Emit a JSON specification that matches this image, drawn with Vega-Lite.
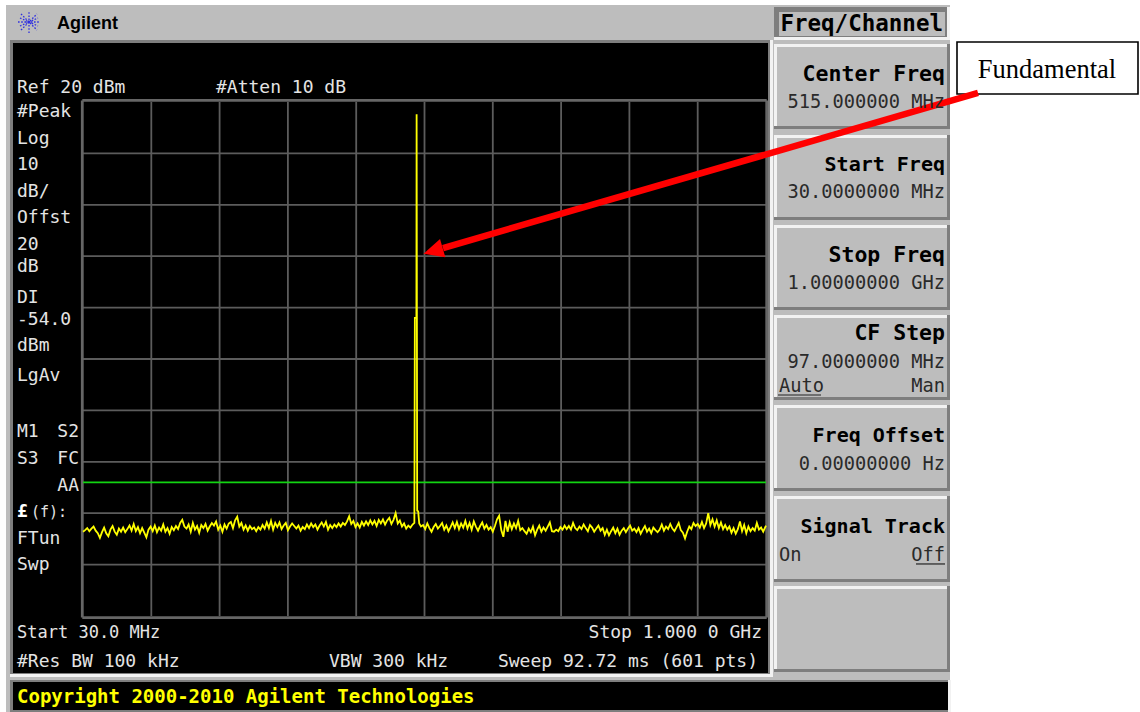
{
"$schema":"https://vega.github.io/schema/vega-lite/v6.json",
"width":1140,"height":712,"padding":0,"autosize":{"type":"fit","contains":"padding"},
"background":"#ffffff","view":{"stroke":null},
"config":{"text":{"font":"DejaVu Sans Mono","fontSize":18,"baseline":"alphabetic"}},
"encoding":{
"x":{"field":"f","type":"quantitative","scale":{"domain":[-87.88,1531.15],"nice":false,"zero":false},"axis":null},
"y":{"field":"a","type":"quantitative","scale":{"domain":[-98.68,39.84],"nice":false,"zero":false},"axis":null}
},
"layer":[
{"data":{"values":[
{"part":"body","f":-79.36,"f2":1261.31,"a":38.87,"a2":-98.68},
{"part":"bezel","f":-73.68,"f2":1005.67,"a":32.06,"a2":-91.29},
{"part":"light","f":1005.67,"f2":1009.93,"a":32.06,"a2":-91.87},
{"part":"light","f":-73.68,"f2":1009.93,"a":-91.29,"a2":-91.87},
{"part":"black","f":-69.42,"f2":1002.83,"a":31.47,"a2":-91.09},
{"part":"bezel","f":-73.68,"f2":1258.47,"a":-92.45,"a2":-98.68},
{"part":"light","f":1258.47,"f2":1262.73,"a":-92.45,"a2":-98.68},
{"part":"black","f":-69.42,"f2":1258.47,"a":-92.84,"a2":-98.29},
{"part":"light","f":1011.35,"f2":1261.31,"a":38.48,"a2":32.06},
{"part":"bezel","f":1011.35,"f2":1257.05,"a":38.48,"a2":32.64},
{"part":"body","f":1018.46,"f2":1254.21,"a":37.51,"a2":32.84},
{"part":"bezel","f":1011.35,"f2":1261.31,"a":31.28,"a2":14.74},
{"part":"light","f":1011.35,"f2":1257.05,"a":31.28,"a2":15.33},
{"part":"body","f":1015.62,"f2":1257.05,"a":30.7,"a2":15.33},
{"part":"bezel","f":1011.35,"f2":1261.31,"a":13.58,"a2":-2.96},
{"part":"light","f":1011.35,"f2":1257.05,"a":13.58,"a2":-2.38},
{"part":"body","f":1015.62,"f2":1257.05,"a":12.99,"a2":-2.38},
{"part":"bezel","f":1011.35,"f2":1261.31,"a":-3.93,"a2":-20.47},
{"part":"light","f":1011.35,"f2":1257.05,"a":-3.93,"a2":-19.89},
{"part":"body","f":1015.62,"f2":1257.05,"a":-4.52,"a2":-19.89},
{"part":"bezel","f":1011.35,"f2":1261.31,"a":-21.44,"a2":-37.98},
{"part":"light","f":1011.35,"f2":1257.05,"a":-21.44,"a2":-37.4},
{"part":"body","f":1015.62,"f2":1257.05,"a":-22.03,"a2":-37.4},
{"part":"bezel","f":1011.35,"f2":1261.31,"a":-38.95,"a2":-55.68},
{"part":"light","f":1011.35,"f2":1257.05,"a":-38.95,"a2":-55.1},
{"part":"body","f":1015.62,"f2":1257.05,"a":-39.53,"a2":-55.1},
{"part":"bezel","f":1011.35,"f2":1261.31,"a":-56.66,"a2":-73.39},
{"part":"light","f":1011.35,"f2":1257.05,"a":-56.66,"a2":-72.8},
{"part":"body","f":1015.62,"f2":1257.05,"a":-57.24,"a2":-72.8},
{"part":"bezel","f":1011.35,"f2":1261.31,"a":-74.17,"a2":-90.9},
{"part":"light","f":1011.35,"f2":1257.05,"a":-74.17,"a2":-90.31},
{"part":"body","f":1015.62,"f2":1257.05,"a":-74.75,"a2":-90.31}
]},
"mark":{"type":"rect"},
"encoding":{"x2":{"field":"f2"},"y2":{"field":"a2"},
"color":{"field":"part","type":"nominal","legend":null,"scale":{"domain":["body","bezel","light","black"],"range":["#bdbdbd","#7e7e7e","#f2f2f2","#000000"]}}}},
{"data":{"values":[
{"f":127,"f2":127,"a":20,"a2":-80},{"f":224,"f2":224,"a":20,"a2":-80},{"f":321,"f2":321,"a":20,"a2":-80},{"f":418,"f2":418,"a":20,"a2":-80},{"f":515,"f2":515,"a":20,"a2":-80},{"f":612,"f2":612,"a":20,"a2":-80},{"f":709,"f2":709,"a":20,"a2":-80},{"f":806,"f2":806,"a":20,"a2":-80},{"f":903,"f2":903,"a":20,"a2":-80},
{"f":30,"f2":1000,"a":10,"a2":10},{"f":30,"f2":1000,"a":0,"a2":0},{"f":30,"f2":1000,"a":-10,"a2":-10},{"f":30,"f2":1000,"a":-20,"a2":-20},{"f":30,"f2":1000,"a":-30,"a2":-30},{"f":30,"f2":1000,"a":-40,"a2":-40},{"f":30,"f2":1000,"a":-50,"a2":-50},{"f":30,"f2":1000,"a":-60,"a2":-60},{"f":30,"f2":1000,"a":-70,"a2":-70}
]},
"mark":{"type":"rule","stroke":"#5c5c5c","strokeWidth":1.8},
"encoding":{"x2":{"field":"f2"},"y2":{"field":"a2"}}},
{"data":{"values":[
{"f":29,"f2":29,"a":20.3,"a2":-80.3},{"f":1001,"f2":1001,"a":20.3,"a2":-80.3},{"f":29,"f2":1001,"a":20.3,"a2":20.3},{"f":29,"f2":1001,"a":-80.3,"a2":-80.3}
]},
"mark":{"type":"rule","stroke":"#666666","strokeWidth":2.8},
"encoding":{"x2":{"field":"f2"},"y2":{"field":"a2"}}},
{"data":{"values":[{"f":30,"f2":1000,"a":-54}]},
"mark":{"type":"rule","stroke":"#12d412","strokeWidth":1.6},
"encoding":{"x2":{"field":"f2"}}},
{"data":{"values":[
{"f":30,"a":-63.6},{"f":33,"a":-63.3},{"f":36,"a":-62.9},{"f":39,"a":-63.5},{"f":42,"a":-63.0},{"f":45,"a":-62.6},{"f":48,"a":-63.4},{"f":51,"a":-63.9},{"f":54,"a":-64.8},{"f":57,"a":-63.7},{"f":60,"a":-62.8},{"f":63,"a":-63.9},{"f":66,"a":-64.5},{"f":69,"a":-63.2},{"f":72,"a":-62.5},{"f":75,"a":-63.6},{"f":78,"a":-64.2},{"f":81,"a":-63.0},{"f":84,"a":-63.6},{"f":87,"a":-62.8},
{"f":90,"a":-63.7},{"f":93,"a":-63.1},{"f":96,"a":-62.4},{"f":99,"a":-63.4},{"f":102,"a":-62.1},{"f":105,"a":-63.5},{"f":108,"a":-62.7},{"f":111,"a":-63.9},{"f":114,"a":-62.9},{"f":117,"a":-63.8},{"f":120,"a":-64.7},{"f":123,"a":-63.2},{"f":126,"a":-62.6},{"f":129,"a":-63.5},{"f":132,"a":-62.4},{"f":135,"a":-63.7},{"f":138,"a":-62.8},{"f":141,"a":-63.4},{"f":144,"a":-62.2},{"f":147,"a":-63.6},
{"f":150,"a":-62.9},{"f":153,"a":-64.0},{"f":156,"a":-62.7},{"f":159,"a":-63.3},{"f":162,"a":-62.5},{"f":165,"a":-63.1},{"f":168,"a":-61.9},{"f":171,"a":-61.3},{"f":174,"a":-62.6},{"f":177,"a":-63.0},{"f":180,"a":-62.2},{"f":183,"a":-63.6},{"f":186,"a":-61.9},{"f":189,"a":-63.2},{"f":192,"a":-62.5},{"f":195,"a":-63.8},{"f":198,"a":-62.3},{"f":201,"a":-62.9},{"f":204,"a":-62.1},{"f":207,"a":-63.4},
{"f":210,"a":-62.6},{"f":213,"a":-61.9},{"f":216,"a":-62.4},{"f":219,"a":-61.6},{"f":222,"a":-63.2},{"f":225,"a":-62.4},{"f":228,"a":-63.6},{"f":231,"a":-62.2},{"f":234,"a":-63.0},{"f":237,"a":-62.0},{"f":240,"a":-61.7},{"f":243,"a":-62.9},{"f":246,"a":-61.4},{"f":249,"a":-60.7},{"f":252,"a":-62.6},{"f":255,"a":-61.9},{"f":258,"a":-63.2},{"f":261,"a":-62.4},{"f":264,"a":-63.4},{"f":267,"a":-62.5},
{"f":270,"a":-63.1},{"f":273,"a":-62.8},{"f":276,"a":-63.5},{"f":279,"a":-62.7},{"f":282,"a":-63.2},{"f":285,"a":-62.3},{"f":288,"a":-63.0},{"f":291,"a":-61.8},{"f":294,"a":-62.9},{"f":297,"a":-61.5},{"f":300,"a":-63.2},{"f":303,"a":-61.9},{"f":306,"a":-62.7},{"f":309,"a":-61.8},{"f":312,"a":-63.1},{"f":315,"a":-62.4},{"f":318,"a":-61.9},{"f":321,"a":-63.3},{"f":324,"a":-62.6},{"f":327,"a":-62.0},
{"f":330,"a":-62.5},{"f":333,"a":-63.0},{"f":336,"a":-62.4},{"f":339,"a":-63.4},{"f":342,"a":-62.7},{"f":345,"a":-63.1},{"f":348,"a":-62.2},{"f":351,"a":-62.9},{"f":354,"a":-62.0},{"f":357,"a":-62.7},{"f":360,"a":-62.2},{"f":363,"a":-63.2},{"f":366,"a":-62.4},{"f":369,"a":-61.8},{"f":372,"a":-62.6},{"f":375,"a":-61.7},{"f":378,"a":-63.2},{"f":381,"a":-62.3},{"f":384,"a":-62.9},{"f":387,"a":-62.2},
{"f":390,"a":-62.7},{"f":393,"a":-62.0},{"f":396,"a":-62.6},{"f":399,"a":-61.9},{"f":402,"a":-62.3},{"f":405,"a":-61.6},{"f":408,"a":-60.6},{"f":411,"a":-62.1},{"f":414,"a":-61.5},{"f":417,"a":-62.7},{"f":420,"a":-62.0},{"f":423,"a":-62.8},{"f":426,"a":-61.7},{"f":429,"a":-62.4},{"f":432,"a":-61.6},{"f":435,"a":-62.3},{"f":438,"a":-61.4},{"f":441,"a":-62.2},{"f":444,"a":-61.5},{"f":447,"a":-62.5},
{"f":450,"a":-61.3},{"f":453,"a":-62.0},{"f":456,"a":-61.2},{"f":459,"a":-62.2},{"f":462,"a":-61.4},{"f":465,"a":-60.9},{"f":468,"a":-62.1},{"f":471,"a":-61.3},{"f":474,"a":-60.0},{"f":477,"a":-62.0},{"f":480,"a":-61.4},{"f":483,"a":-62.6},{"f":486,"a":-62.0},{"f":489,"a":-63.0},{"f":492,"a":-62.4},{"f":495,"a":-62.8},{"f":498,"a":-62.2},{"f":500.6,"a":-61.9},
{"f":501.3,"a":-22},{"f":503.5,"a":-22},{"f":503.8,"a":17.6},{"f":504.2,"a":-22},{"f":504.6,"a":-59.5},{"f":506,"a":-59.6},{"f":507.5,"a":-62},
{"f":510,"a":-62.6},{"f":513,"a":-62.3},{"f":516,"a":-63.1},{"f":519,"a":-62.0},{"f":522,"a":-62.9},{"f":525,"a":-63.6},{"f":528,"a":-62.7},{"f":531,"a":-62.1},{"f":534,"a":-63.0},{"f":537,"a":-62.5},{"f":540,"a":-61.9},{"f":543,"a":-63.2},{"f":546,"a":-62.4},{"f":549,"a":-63.5},{"f":552,"a":-62.7},{"f":555,"a":-61.8},{"f":558,"a":-62.9},{"f":561,"a":-61.7},{"f":564,"a":-63.1},{"f":567,"a":-62.0},
{"f":570,"a":-62.8},{"f":573,"a":-61.5},{"f":576,"a":-63.0},{"f":579,"a":-61.9},{"f":582,"a":-63.2},{"f":585,"a":-61.6},{"f":588,"a":-62.6},{"f":591,"a":-63.4},{"f":594,"a":-62.5},{"f":597,"a":-61.8},{"f":600,"a":-63.0},{"f":603,"a":-62.3},{"f":606,"a":-63.2},{"f":609,"a":-62.7},{"f":612,"a":-63.6},{"f":615,"a":-62.5},{"f":618,"a":-61.2},{"f":621,"a":-60.5},{"f":624,"a":-63.3},{"f":627,"a":-64.6},
{"f":630,"a":-61.5},{"f":633,"a":-63.6},{"f":636,"a":-61.8},{"f":639,"a":-63.1},{"f":642,"a":-62.0},{"f":645,"a":-62.9},{"f":648,"a":-61.5},{"f":651,"a":-63.3},{"f":654,"a":-62.9},{"f":657,"a":-63.5},{"f":660,"a":-64.0},{"f":663,"a":-63.0},{"f":666,"a":-63.7},{"f":669,"a":-62.6},{"f":672,"a":-64.3},{"f":675,"a":-63.2},{"f":678,"a":-62.4},{"f":681,"a":-63.6},{"f":684,"a":-62.8},{"f":687,"a":-63.4},
{"f":690,"a":-62.6},{"f":693,"a":-61.8},{"f":696,"a":-63.5},{"f":699,"a":-63.6},{"f":702,"a":-63.2},{"f":705,"a":-63.5},{"f":708,"a":-62.7},{"f":711,"a":-63.2},{"f":714,"a":-62.4},{"f":717,"a":-63.1},{"f":720,"a":-62.5},{"f":723,"a":-63.2},{"f":726,"a":-61.9},{"f":729,"a":-62.9},{"f":732,"a":-63.3},{"f":735,"a":-62.6},{"f":738,"a":-63.1},{"f":741,"a":-62.2},{"f":744,"a":-62.9},{"f":747,"a":-63.5},
{"f":750,"a":-62.3},{"f":753,"a":-62.8},{"f":756,"a":-63.6},{"f":759,"a":-63.0},{"f":762,"a":-62.4},{"f":765,"a":-63.4},{"f":768,"a":-62.9},{"f":771,"a":-64.2},{"f":774,"a":-63.2},{"f":777,"a":-64.3},{"f":780,"a":-63.5},{"f":783,"a":-62.8},{"f":786,"a":-63.9},{"f":789,"a":-63.0},{"f":792,"a":-64.2},{"f":795,"a":-63.4},{"f":798,"a":-62.9},{"f":801,"a":-63.7},{"f":804,"a":-63.0},{"f":807,"a":-62.4},
{"f":810,"a":-63.4},{"f":813,"a":-63.0},{"f":816,"a":-63.7},{"f":819,"a":-62.9},{"f":822,"a":-64.0},{"f":825,"a":-63.2},{"f":828,"a":-62.5},{"f":831,"a":-63.6},{"f":834,"a":-63.0},{"f":837,"a":-63.9},{"f":840,"a":-62.8},{"f":843,"a":-63.3},{"f":846,"a":-63.7},{"f":849,"a":-63.2},{"f":852,"a":-62.2},{"f":855,"a":-63.4},{"f":858,"a":-62.6},{"f":861,"a":-63.1},{"f":864,"a":-62.1},{"f":867,"a":-63.0},
{"f":870,"a":-63.5},{"f":873,"a":-62.7},{"f":876,"a":-61.9},{"f":879,"a":-63.3},{"f":882,"a":-63.8},{"f":885,"a":-64.9},{"f":888,"a":-63.6},{"f":891,"a":-62.6},{"f":894,"a":-63.1},{"f":897,"a":-61.9},{"f":900,"a":-62.5},{"f":903,"a":-62.1},{"f":906,"a":-62.8},{"f":909,"a":-61.7},{"f":912,"a":-62.9},{"f":915,"a":-62.0},{"f":918,"a":-60.0},{"f":921,"a":-62.3},{"f":924,"a":-61.2},{"f":927,"a":-62.6},
{"f":930,"a":-61.4},{"f":933,"a":-62.9},{"f":936,"a":-61.8},{"f":939,"a":-63.1},{"f":942,"a":-62.3},{"f":945,"a":-63.2},{"f":948,"a":-62.6},{"f":951,"a":-63.8},{"f":954,"a":-62.9},{"f":957,"a":-64.0},{"f":960,"a":-63.1},{"f":963,"a":-61.6},{"f":966,"a":-63.5},{"f":969,"a":-62.3},{"f":972,"a":-63.9},{"f":975,"a":-62.6},{"f":978,"a":-63.5},{"f":981,"a":-62.9},{"f":984,"a":-63.4},{"f":987,"a":-61.9},
{"f":990,"a":-63.2},{"f":993,"a":-62.8},{"f":996,"a":-63.6},{"f":1000,"a":-62.4}
]},
"mark":{"type":"line","stroke":"#ffff00","strokeWidth":1.8,"interpolate":"linear"}},
{"data":{"values":[
{"f":-62.31,"f2":-31.07,"a":35.56,"a2":35.56},{"f":-46.69,"f2":-46.69,"a":33.42,"a2":37.7},{"f":-58.05,"f2":-35.33,"a":33.99,"a2":37.13},{"f":-58.05,"f2":-35.33,"a":37.13,"a2":33.99},{"f":-59.47,"f2":-33.91,"a":34.78,"a2":36.34},{"f":-59.47,"f2":-33.91,"a":36.34,"a2":34.78}
]},
"mark":{"type":"rule","stroke":"#2f2fe0","strokeWidth":1.3,"strokeDash":[1.6,1.6]},
"encoding":{"x2":{"field":"f2"},"y2":{"field":"a2"}}},
{"data":{"values":[{"f":1271.25,"f2":1528.31,"a":31.67,"a2":21.55}]},
"mark":{"type":"rect","fill":"#ffffff","stroke":"#000000","strokeWidth":1.6},
"encoding":{"x2":{"field":"f2"},"y2":{"field":"a2"}}},
{"data":{"values":[{"f":1399.07,"a":24.7,"label":"Fundamental"}]},
"mark":{"type":"text","font":"Liberation Serif","fontSize":26.5,"align":"center"},
"encoding":{"text":{"field":"label"}}},
{"data":{"values":[{"f":1301.08,"f2":541.27,"a":21.75,"a2":-8.41}]},
"mark":{"type":"rule","stroke":"#ff0000","strokeWidth":6.5},
"encoding":{"x2":{"field":"f2"},"y2":{"field":"a2"}}},
{"data":{"values":[{"f":531.75,"a":-8.8,"heading":253.8}]},
"mark":{"type":"point","filled":true,"opacity":1,"fill":"#ff0000","stroke":null,"shape":"M0,-1.4L1,0.7L-1,0.7Z","size":361},
"encoding":{"angle":{"field":"heading","type":"quantitative","scale":null}}},
{"data":{"values":[
{"f":1017.04,"f2":1078.11,"a":-37.01},{"f":1213.02,"f2":1254.21,"a":-69.88}
]},
"mark":{"type":"rule","stroke":"#222222","strokeWidth":1.2},
"encoding":{"x2":{"field":"f2"}}},
{"data":{"values":[
{"f":-63.74,"a":21.75,"label":"Ref 20 dBm"},{"f":218.88,"a":21.75,"label":"#Atten 10 dB"},{"f":-63.74,"a":17.08,"label":"#Peak"},{"f":-63.74,"a":11.82,"label":"Log"},{"f":-63.74,"a":6.77,"label":"10"},{"f":-63.74,"a":1.51,"label":"dB/"},{"f":-63.74,"a":-3.54,"label":"Offst"},{"f":-63.74,"a":-8.8,"label":"20"},{"f":-63.74,"a":-13.08,"label":"dB"},{"f":-63.74,"a":-19.11,"label":"DI"},{"f":-63.74,"a":-23.39,"label":"-54.0"},{"f":-63.74,"a":-28.45,"label":"dBm"},{"f":-63.74,"a":-34.28,"label":"LgAv"},{"f":-63.74,"a":-45.18,"label":"M1"},{"f":-63.74,"a":-50.43,"label":"S3"},{"f":-63.74,"a":-65.99,"label":"FTun"},{"f":-63.74,"a":-71.05,"label":"Swp"},{"f":-63.74,"a":-89.93,"label":"#Res BW 100 kHz"},{"f":379.37,"a":-89.93,"label":"VBW 300 kHz"}
]},
"mark":{"type":"text","align":"left","fill":"#e4e4e4"},
"encoding":{"text":{"field":"label"}}},
{"data":{"values":[{"f":-63.74,"a":-84.28,"label":"Start 30.0 MHz"}]},
"mark":{"type":"text","align":"left","fill":"#e4e4e4","fontSize":17},
"encoding":{"text":{"field":"label"}}},
{"data":{"values":[{"f":-43.85,"a":-60.74,"label":"(f):"}]},
"mark":{"type":"text","align":"left","fill":"#e4e4e4","fontSize":15},
"encoding":{"text":{"field":"label"}}},
{"data":{"values":[{"f":-63.74,"a":-60.74,"label":"£"}]},
"mark":{"type":"text","align":"left","fill":"#ffffff","fontWeight":"bold"},
"encoding":{"text":{"field":"label"}}},
{"data":{"values":[
{"f":24.32,"a":-45.18,"label":"S2"},{"f":24.32,"a":-50.43,"label":"FC"},{"f":24.32,"a":-55.68,"label":"AA"},{"f":994.31,"a":-84.28,"label":"Stop 1.000 0 GHz"},{"f":988.63,"a":-89.93,"label":"Sweep 92.72 ms (601 pts)"}
]},
"mark":{"type":"text","align":"right","fill":"#e4e4e4"},
"encoding":{"text":{"field":"label"}}},
{"data":{"values":[
{"f":1254.21,"a":24.08,"label":"Center Freq"},{"f":1254.21,"a":-11.13,"label":"Stop Freq"},{"f":1254.21,"a":-26.31,"label":"CF Step"}
]},
"mark":{"type":"text","align":"right","fill":"#000000","fontWeight":"bold","fontSize":21.5},
"encoding":{"text":{"field":"label"}}},
{"data":{"values":[
{"f":1254.21,"a":6.57,"label":"Start Freq"},{"f":1254.21,"a":-46.15,"label":"Freq Offset"},{"f":1254.21,"a":-63.85,"label":"Signal Track"}
]},
"mark":{"type":"text","align":"right","fill":"#000000","fontWeight":"bold","fontSize":20},
"encoding":{"text":{"field":"label"}}},
{"data":{"values":[
{"f":1254.21,"a":18.83,"label":"515.000000 MHz"},{"f":1254.21,"a":1.32,"label":"30.0000000 MHz"},{"f":1254.21,"a":-16.38,"label":"1.00000000 GHz"},{"f":1254.21,"a":-31.75,"label":"97.0000000 MHz"},{"f":1254.21,"a":-36.42,"label":"Man"},{"f":1254.21,"a":-51.6,"label":"0.00000000  Hz"},{"f":1254.21,"a":-69.3,"label":"Off"}
]},
"mark":{"type":"text","align":"right","fill":"#2a2a2a","fontSize":18.7},
"encoding":{"text":{"field":"label"}}},
{"data":{"values":[{"f":1018.46,"a":-36.42,"label":"Auto"},{"f":1018.46,"a":-69.3,"label":"On"}]},
"mark":{"type":"text","align":"left","fill":"#2a2a2a","fontSize":18.7},
"encoding":{"text":{"field":"label"}}},
{"data":{"values":[{"f":1251.37,"a":33.81,"label":"Freq/Channel"}]},
"mark":{"type":"text","align":"right","fill":"#000000","fontWeight":"bold","fontSize":22.5},
"encoding":{"text":{"field":"label"}}},
{"data":{"values":[{"f":-6.93,"a":34.2,"label":"Agilent"}]},
"mark":{"type":"text","align":"left","fill":"#000000","font":"Liberation Sans","fontWeight":"bold","fontSize":18},
"encoding":{"text":{"field":"label"}}},
{"data":{"values":[{"f":-63.74,"a":-96.93,"label":"Copyright 2000-2010 Agilent Technologies"}]},
"mark":{"type":"text","align":"left","fill":"#ffff00","fontWeight":"bold","fontSize":19},
"encoding":{"text":{"field":"label"}}}
]
}
